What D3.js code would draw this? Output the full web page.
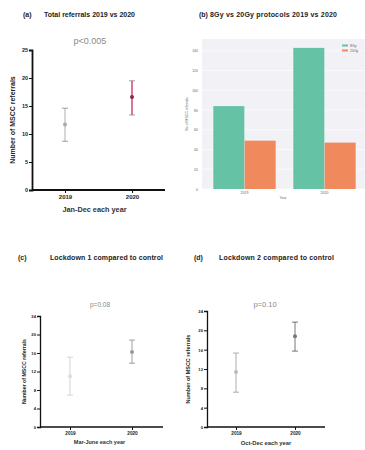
<!DOCTYPE html>
<html>
<head>
<meta charset="utf-8">
<script src="https://cdn.jsdelivr.net/npm/d3@7"></script>
<style>
  body { margin: 0; background: #fff; }
  svg { display: block; font-family: "Liberation Sans", Arial, sans-serif; }
</style>
</head>
<body>
<div id="rootDiv"></div>
<script>
// panel a: total referrals per month, mean and range of error bar
const years = ["2019", "2020"]
const totalMean = [11.7, 16.6]
const totalLow = [8.7, 13.4]
const totalHigh = [14.6, 19.5]
const totalTicks = [0, 5, 10, 15, 20, 25]

// panel b: protocols
const protocols = ["8Gy", "20Gy"]
const protocol8 = [84, 143]
const protocol20 = [49, 47]
const protocolTicks = [0, 20, 40, 60, 80, 100, 120, 140]

// panel c: lockdown 1
const lock1Mean = [11.0, 16.2]
const lock1Low = [6.9, 13.8]
const lock1High = [15.1, 18.8]
const lockTicks = [0, 4, 8, 12, 16, 20, 24]

// panel d: lockdown 2
const lock2Mean = [11.4, 18.8]
const lock2Low = [7.2, 15.7]
const lock2High = [15.3, 21.7]

const svg = d3.select("#rootDiv").append("svg")
    .attr("width", 365)
    .attr("height", 450)

function title(g, label, text, x, tx, y, len) {
    g.append("text")
        .attr("x", x).attr("y", y)
        .attr("font-size", 7).attr("font-weight", "bold").attr("fill", "#222")
        .text(label)
    g.append("text")
        .attr("x", tx).attr("y", y)
        .attr("font-size", 7).attr("font-weight", "bold").attr("fill", "#222")
        .attr("textLength", len).attr("lengthAdjust", "spacing")
        .text(text)
}

function dotPanel(opt) {
    const g = svg.append("g")
    const x = d3.scalePoint().domain(years).range(opt.xs)
    const y = d3.scaleLinear().domain([0, opt.max]).range([opt.bottom, opt.top])

    title(g, opt.label, opt.title, opt.titleX, opt.textX, opt.titleY, opt.titleLen)

    g.append("text")
        .attr("x", opt.pX).attr("y", opt.pY)
        .attr("text-anchor", "middle")
        .attr("font-size", opt.pSize).attr("fill", "#8a8a8a")
        .text(opt.p)

    const yAxis = g.append("g")
        .attr("transform", `translate(${opt.left},0)`)
        .call(d3.axisLeft(y).tickValues(opt.ticks).tickSize(3).tickPadding(1))
    const xAxis = g.append("g")
        .attr("transform", `translate(0,${opt.bottom})`)
        .call(d3.axisBottom(x).tickSize(3).tickPadding(2))
    xAxis.select("path").attr("d", `M${opt.left},0H${opt.right}`)
    for (const axis of [xAxis, yAxis]) {
        axis.selectAll("path").style("stroke", "#111").style("stroke-width", opt.axisW)
        axis.selectAll("line").style("stroke", "#111").style("stroke-width", 1)
        axis.selectAll("text").style("fill", "#222").style("font-size", opt.tickSize + "px")
            .style("font-weight", "bold")
    }
    xAxis.selectAll("text").style("font-size", (opt.tickSize + 0.5) + "px")

    g.append("text")
        .attr("transform", `translate(${opt.yLabX},${(opt.top + opt.bottom) / 2}) rotate(-90)`)
        .attr("text-anchor", "middle")
        .attr("font-size", opt.labSize).attr("font-weight", "bold").attr("fill", "#222")
        .text("Number of MSCC referrals")

    g.append("text")
        .attr("x", (opt.left + opt.right) / 2 + opt.xLabShift).attr("y", opt.xLabY)
        .attr("text-anchor", "middle")
        .attr("font-size", opt.labSize + 0.3).attr("font-weight", "bold").attr("fill", "#333")
        .text(opt.xLabel)

    const bars = g.selectAll("g.err").data(years).enter().append("g").attr("class", "err")
    bars.append("line")
        .attr("x1", d => x(d)).attr("x2", d => x(d))
        .attr("y1", (d, i) => y(opt.low[i])).attr("y2", (d, i) => y(opt.high[i]))
        .attr("stroke", (d, i) => opt.colors[i]).attr("stroke-width", (d, i) => opt.lineW[i])
    for (const v of ["low", "high"]) {
        bars.append("line")
            .attr("x1", d => x(d) - 3).attr("x2", d => x(d) + 3)
            .attr("y1", (d, i) => y(opt[v][i])).attr("y2", (d, i) => y(opt[v][i]))
            .attr("stroke", (d, i) => opt.capColors[i]).attr("stroke-width", 0.8)
    }
    bars.append("circle")
        .attr("cx", d => x(d)).attr("cy", (d, i) => y(opt.mean[i]))
        .attr("r", 2)
        .attr("fill", (d, i) => opt.dotColors[i])
}

dotPanel({
    label: "(a)", title: "Total referrals 2019 vs 2020",
    titleX: 23, textX: 44, titleY: 17, titleLen: 91,
    p: "p<0.005", pX: 90, pY: 44, pSize: 9,
    left: 32, right: 165, top: 50, bottom: 190, xs: [65, 132], max: 25,
    ticks: totalTicks, axisW: 1.8, tickSize: 5.5, labSize: 7,
    yLabX: 15, xLabY: 212, xLabShift: -4, xLabel: "Jan-Dec each year",
    mean: totalMean, low: totalLow, high: totalHigh,
    colors: ["#9a9a9a", "#d0395f"], lineW: [0.8, 1.4], capColors: ["#888", "#888"],
    dotColors: ["#aaa", "#8a2a4a"]
})

dotPanel({
    label: "(c)", title: "Lockdown 1 compared to control",
    titleX: 18, textX: 50, titleY: 260, titleLen: 113,
    p: "p=0.08", pX: 100, pY: 307, pSize: 6.5,
    left: 40, right: 163, top: 316, bottom: 427, xs: [70, 132], max: 24,
    ticks: lockTicks, axisW: 1.3, tickSize: 4.2, labSize: 5.2,
    yLabX: 26, xLabY: 444, xLabShift: -2, xLabel: "Mar-June each year",
    mean: lock1Mean, low: lock1Low, high: lock1High,
    colors: ["#c8c8c8", "#888"], lineW: [0.8, 0.8], capColors: ["#ccc", "#888"],
    dotColors: ["#ddd", "#999"]
})

dotPanel({
    label: "(d)", title: "Lockdown 2 compared to control",
    titleX: 194, textX: 219, titleY: 260, titleLen: 115,
    p: "p=0.10", pX: 265, pY: 307, pSize: 7.5,
    left: 207, right: 325, top: 311, bottom: 427, xs: [236, 295], max: 24,
    ticks: lockTicks, axisW: 1.3, tickSize: 4.2, labSize: 5.5,
    yLabX: 190, xLabY: 445, xLabShift: 0, xLabel: "Oct-Dec each year",
    mean: lock2Mean, low: lock2Low, high: lock2High,
    colors: ["#999", "#555"], lineW: [0.8, 0.8], capColors: ["#999", "#555"],
    dotColors: ["#bbb", "#777"]
})

// panel b: grouped bar chart
const colorsB = ["#66c2a5", "#f08a5d"]
const bLeft = 202, bRight = 367, bTop = 39, bBottom = 189
const xb = d3.scaleBand().domain(years).range([bLeft, bRight]).paddingInner(0.2125).paddingOuter(0.1375)
const xsub = d3.scaleBand().domain(protocols).range([0, xb.bandwidth()]).padding(0.01)
const yb = d3.scaleLinear().domain([0, 152]).range([bBottom, bTop])
const gb = svg.append("g")

title(gb, "(b)", "8Gy vs 20Gy protocols 2019 vs 2020", 199, 210, 17, 127)

gb.append("rect")
    .attr("x", bLeft).attr("y", bTop)
    .attr("width", bRight - bLeft).attr("height", bBottom - bTop)
    .attr("fill", "#f2f1f6")

const yAxisB = gb.append("g")
    .attr("transform", `translate(${bLeft},0)`)
    .call(d3.axisLeft(yb).tickValues(protocolTicks).tickSize(0).tickPadding(4))
yAxisB.select("path").remove()
yAxisB.selectAll("text").style("font-size", "3.5px").style("fill", "#666")
yAxisB.selectAll("line.grid").data(protocolTicks).enter().append("line")
    .attr("x1", 0).attr("x2", bRight - bLeft)
    .attr("y1", d => yb(d)).attr("y2", d => yb(d))
    .attr("stroke", "#fff").attr("stroke-width", 0.6)

const xAxisB = gb.append("g")
    .attr("transform", `translate(0,${bBottom})`)
    .call(d3.axisBottom(xb).tickSize(0).tickPadding(3))
xAxisB.select("path").remove()
xAxisB.selectAll("text").style("font-size", "3.5px").style("fill", "#666")

const series = [protocol8, protocol20]
gb.selectAll("g.grp").data(years).enter().append("g").attr("class", "grp")
    .attr("transform", d => `translate(${xb(d)},0)`)
    .selectAll("rect")
    .data((d, i) => protocols.map((p, j) => ({ p: p, v: series[j][i] })))
    .enter().append("rect")
    .attr("x", d => xsub(d.p))
    .attr("y", d => yb(d.v))
    .attr("width", xsub.bandwidth())
    .attr("height", d => bBottom - yb(d.v))
    .attr("fill", d => colorsB[protocols.indexOf(d.p)])

gb.append("text")
    .attr("transform", `translate(188,${(bTop + bBottom) / 2}) rotate(-90)`)
    .attr("text-anchor", "middle").attr("font-size", 3.5).attr("fill", "#666")
    .text("No of MSCC referrals")
gb.append("text")
    .attr("x", 283).attr("y", 199)
    .attr("text-anchor", "middle").attr("font-size", 3.5).attr("fill", "#666")
    .text("Year")

const legend = gb.selectAll("g.legend").data(protocols).enter().append("g")
    .attr("class", "legend")
    .attr("transform", (d, i) => `translate(342,${46 + i * 5})`)
legend.append("rect")
    .attr("width", 6).attr("height", 2).attr("y", -1.5)
    .attr("fill", (d, i) => colorsB[i])
legend.append("text")
    .attr("x", 8).attr("y", 1).attr("font-size", 3.5).attr("fill", "#666")
    .text(d => d)
</script>
</body>
</html>
